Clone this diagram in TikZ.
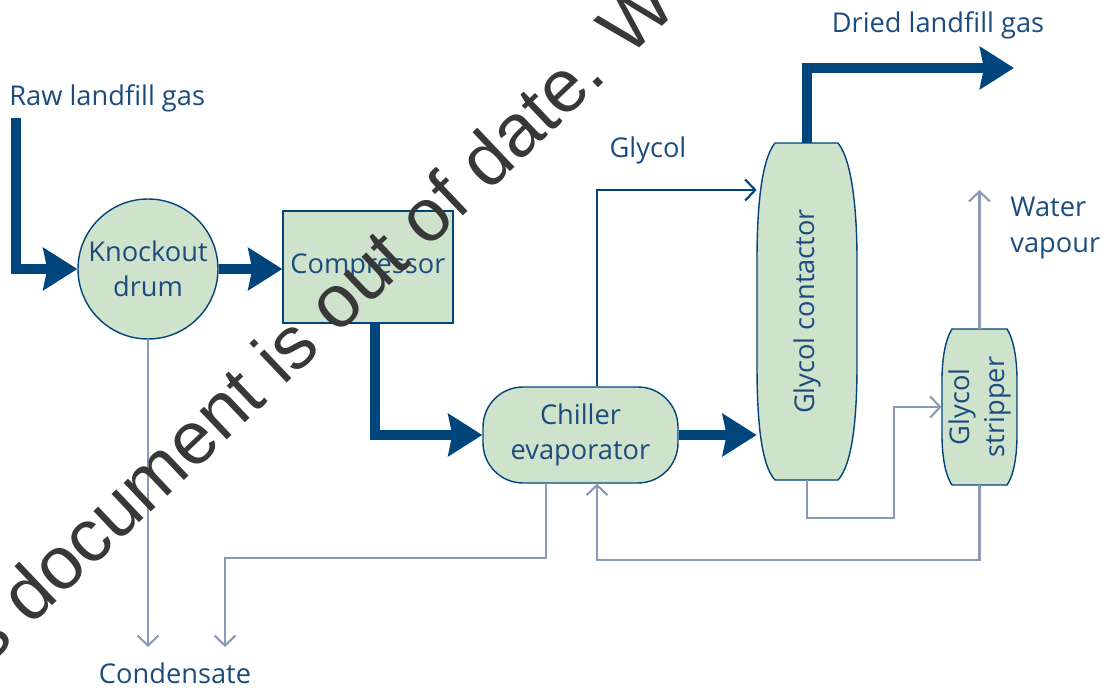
\documentclass[tikz,border=0pt]{standalone}
\usepackage{fontspec}
\setmainfont{Open Sans}
\newfontfamily\markfont{Liberation Sans}
\usepackage{color}
\usetikzlibrary{arrows.meta,calc}

\definecolor{flowblue}{RGB}{0,69,124}
\definecolor{textblue}{RGB}{27,76,125}
\definecolor{pipegrey}{RGB}{140,155,181}
\definecolor{unitgreen}{RGB}{207,226,203}
\definecolor{markgrey}{RGB}{56,56,56}

\begin{document}
\begin{tikzpicture}[x=0.02cm, y=-0.02cm,
	unit/.style={draw=flowblue, fill=unitgreen, line width=0.8pt},
	lbl/.style={text=textblue, font=\fontsize{15.5}{20}\selectfont, inner sep=0pt},
	gas/.style={draw=flowblue, line width=5.5pt, -{Stealth[length=0.68cm, width=0.84cm, inset=0.08cm]}},
	pipe/.style={draw=pipegrey, line width=1.2pt, -{Straight Barb[length=0.2cm, width=0.42cm]}}]
	\useasboundingbox (0,0) rectangle (1109,689);

	% Process units
	\node[unit, lbl, circle, minimum size=2.8cm, align=center] (drum) at (148,269) {Knockout\\drum};
	\node[unit, lbl, minimum width=3.4cm, minimum height=2.24cm] (comp) at (368,267) {Compressor};
	\node[unit, lbl, rounded corners=0.8cm, minimum width=3.9cm, minimum height=1.92cm, align=center] (chill) at (580.5,435) {Chiller\\evaporator};

	% Barrel shaped vessels
	\filldraw[unit] (775,143) -- (838,143) .. controls (852,160) and (857,210) .. (857,260) -- (857,365)
		.. controls (857,420) and (852,465) .. (838,480) -- (775,480) .. controls (761,465) and (757,420) .. (757,365)
		-- (757,260) .. controls (757,210) and (761,160) .. (775,143) -- cycle;
	\node[minimum width=2cm, minimum height=6.74cm] (con) at (807,311.5) {};
	\node[lbl, rotate=90] at (con) {Glycol contactor};

	\filldraw[unit] (952,329) -- (1007,329) .. controls (1014,340) and (1017,360) .. (1017,380) -- (1017,435)
		.. controls (1017,455) and (1014,475) .. (1007,485) -- (952,485) .. controls (945,475) and (942,455) .. (942,435)
		-- (942,380) .. controls (942,360) and (945,340) .. (952,329) -- cycle;
	\node[minimum width=1.5cm, minimum height=3.12cm] (strip) at (979.5,407) {};
	\node[lbl, rotate=90, align=center] at (strip) {Glycol\\stripper};

	% Main gas stream
	\coordinate (rawin) at (16,118);
	\coordinate (dried) at (1014,68);
	\draw[gas] (rawin) |- (drum.west);
	\draw[gas] (drum.east) -- (drum.east -| comp.west);
	\draw[gas] ([xshift=0.14cm]comp.south) |- (chill.west);
	\draw[gas] (chill.east) -- (chill.east -| con.west);
	\draw[gas] (con.north) |- (dried);

	% Glycol and condensate lines
	\coordinate (glytop) at (597,190);
	\coordinate (lowbend) at (894,518);
	\coordinate (vapour) at (980,190);
	\coordinate (retbend) at (597,560);
	\coordinate (condbend) at (225,558);
	\coordinate (condout) at (225,647);
	\draw[pipe, draw=flowblue] (chill.north -| glytop) -- (glytop) -- (glytop -| con.west);
	\draw[pipe] (con.south) |- (lowbend) |- (strip.west);
	\draw[pipe] (strip.north) -- (strip.north |- vapour);
	\draw[pipe] (strip.south) |- (retbend) -- (retbend |- chill.south);
	\draw[pipe] ([xshift=-0.69cm]chill.south) |- (condbend) -- (condout);
	\draw[pipe] (drum.south) -- (drum.south |- condout);

	% Stream labels
	\node[lbl, anchor=west] at (9,98) {Raw landfill gas};
	\node[lbl] at (938,25) {Dried landfill gas};
	\node[lbl] at (648,150) {Glycol};
	\node[lbl, anchor=west, align=left] at (1010,228) {Water\\vapour};
	\node[lbl] at (175,673) {Condensate};

	% Watermark across the page
	\begin{scope}
		\clip (0,0) rectangle (1109,689);
		\node[anchor=base west, rotate=43.5, inner sep=0pt, text=markgrey, font=\markfont\fontsize{42.5}{50}\selectfont] at (-87,738) {This document is out of date. W};
	\end{scope}
\end{tikzpicture}
\end{document}
